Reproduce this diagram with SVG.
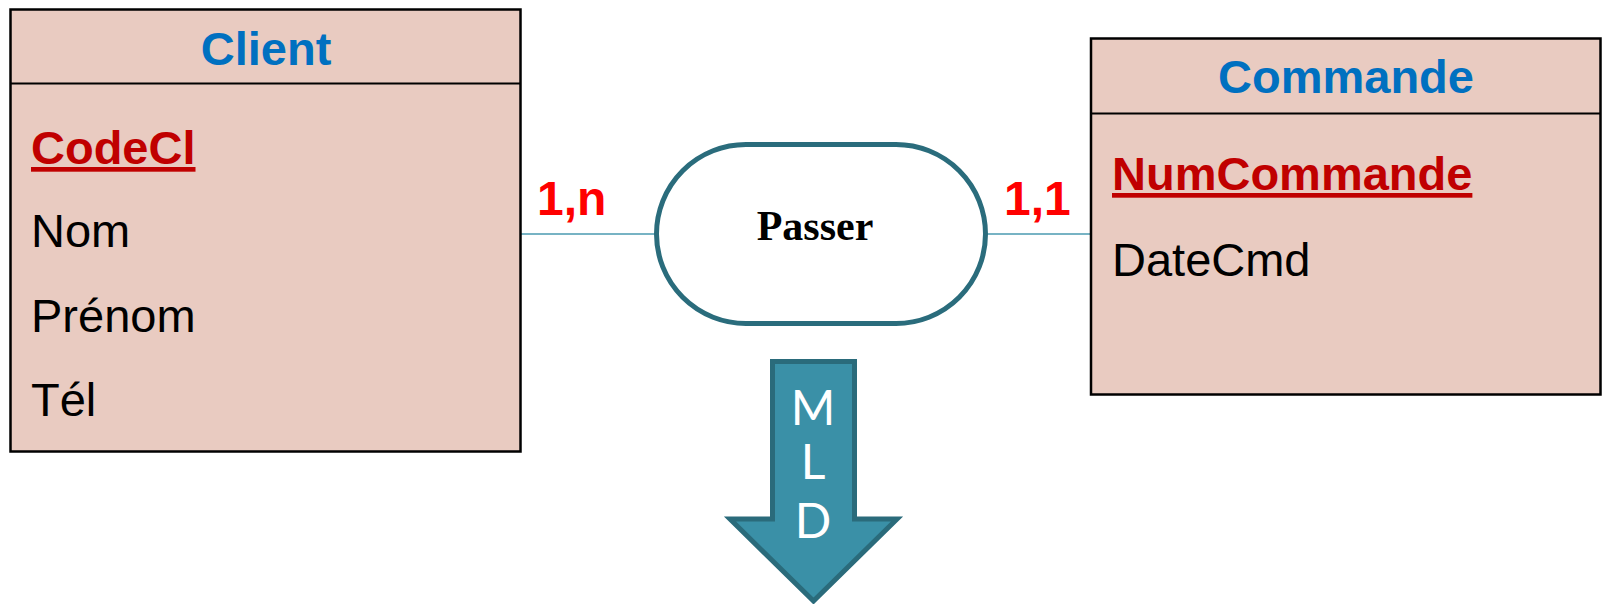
<svg xmlns="http://www.w3.org/2000/svg" width="1606" height="604" viewBox="0 0 1606 604">
<style>
.box{fill:#e9cbc1;stroke:#000;stroke-width:2.5}
.div{stroke:#000;stroke-width:2}
.title{font-family:"Liberation Sans",Arial,sans-serif;font-weight:bold;font-size:47px;fill:#0070c0;text-anchor:middle}
.key{font-family:"Liberation Sans",Arial,sans-serif;font-weight:bold;font-size:47px;fill:#c00000;text-decoration:underline}
.attr{font-family:"Liberation Sans",Arial,sans-serif;font-size:47px;fill:#000}
.card{font-family:"Liberation Sans",Arial,sans-serif;font-weight:bold;font-size:48px;fill:#ff0000}
.conn{stroke:#4a9ab0;stroke-width:1.6;fill:none}
.assoc{fill:#fff;stroke:#2a6c7c;stroke-width:5}
.assocText{font-family:"Liberation Serif","Times New Roman",serif;font-weight:bold;font-size:42px;fill:#000;text-anchor:middle}
.mld{fill:#3a90a7;stroke:#2a6b7b;stroke-width:5;stroke-linejoin:miter}
.mldText{font-family:Lato,"Open Sans",sans-serif;font-size:48px;fill:#fff;text-anchor:middle}
</style>
<g id="connectors">
<line class="conn" x1="521" y1="234" x2="655" y2="234"/>
<line class="conn" x1="987" y1="234" x2="1091" y2="234"/>
</g>
<g id="client">
<rect class="box" x="10.5" y="9.5" width="510" height="442"/>
<line class="div" x1="10.5" y1="83.5" x2="520.5" y2="83.5"/>
<text class="title" x="266" y="65">Client</text>
<text class="key" x="31" y="164">CodeCl</text>
<text class="attr" x="31" y="247">Nom</text>
<text class="attr" x="31" y="332">Prénom</text>
<text class="attr" x="31" y="416">Tél</text>
</g>
<g id="commande">
<rect class="box" x="1091" y="38.5" width="509.5" height="356"/>
<line class="div" x1="1091" y1="113.5" x2="1600.5" y2="113.5"/>
<text class="title" x="1346" y="93">Commande</text>
<text class="key" x="1112" y="190">NumCommande</text>
<text class="attr" x="1112" y="276">DateCmd</text>
</g>
<g id="passer">
<rect class="assoc" x="656.5" y="144.5" width="329" height="179" rx="89.5" ry="89.5"/>
<text class="assocText" x="815" y="240">Passer</text>
</g>
<g id="card-labels">
<text class="card" x="537" y="215">1,n</text>
<text class="card" x="1004" y="215">1,1</text>
</g>
<g id="mld-arrow">
<polygon class="mld" points="772.5,361.5 854.5,361.5 854.5,519 897,519 813.5,601 730,519 772.5,519"/>
<text class="mldText" x="813" y="425">M</text>
<text class="mldText" x="813" y="479">L</text>
<text class="mldText" x="813" y="538">D</text>
</g>
</svg>
